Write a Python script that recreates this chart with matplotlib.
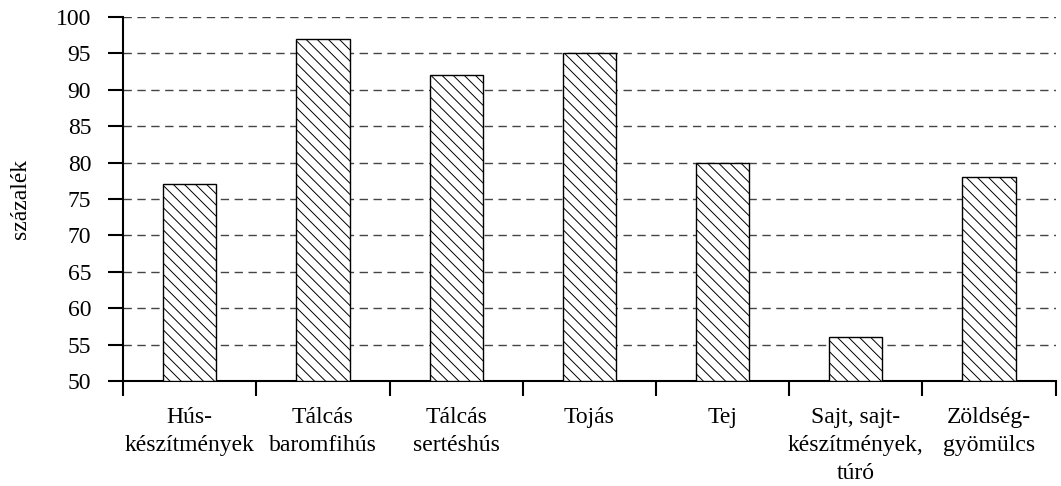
import matplotlib
matplotlib.use('Agg')
import matplotlib.pyplot as plt
from matplotlib.ticker import FixedLocator

categories = ['Hús-\nkészítmények', 'Tálcás\nbaromfihús', 'Tálcás\nsertéshús', 'Tojás',
              'Tej', 'Sajt, sajt-\nkészítmények,\ntúró', 'Zöldség-\ngyömülcs']
values = [77, 97, 92, 95, 80, 56, 78]
yticks = list(range(50, 101, 5))

plt.rcParams['font.family'] = ['Liberation Serif', 'DejaVu Serif']
plt.rcParams['font.size'] = 17
plt.rcParams['hatch.linewidth'] = 0.7

fig = plt.figure(figsize=(10.61, 4.86), dpi=100)
ax = fig.add_axes([0.116, 0.216, 0.879, 0.749])

x = list(range(len(categories)))
ax.bar(x, [v - 50 for v in values], bottom=50, width=0.4, color='white',
       edgecolor='black', linewidth=1.0, hatch='\\\\\\', zorder=3)

ax.set_xlim(-0.5, len(categories) - 0.5)
ax.set_ylim(50, 100)
ax.set_yticks(yticks)
ax.set_xticks(x)
ax.set_xticklabels(categories, linespacing=1.42)
ax.xaxis.set_minor_locator(FixedLocator([i - 0.5 for i in range(len(categories) + 1)]))

ax.tick_params(axis='x', which='major', length=0, pad=19)
ax.tick_params(axis='x', which='minor', length=11, width=1.5, direction='out')
ax.tick_params(axis='y', length=11, width=1.5, direction='out', pad=12)

ax.grid(axis='y', linestyle=(0, (6, 4)), color='#444444', linewidth=1.0, zorder=0)
ax.set_axisbelow(True)

for s in ['top', 'right']:
    ax.spines[s].set_visible(False)
for s in ['left', 'bottom']:
    ax.spines[s].set_linewidth(1.5)

ax.set_ylabel('százalék', fontsize=17, labelpad=18)

fig.savefig('out.png', dpi=100)
